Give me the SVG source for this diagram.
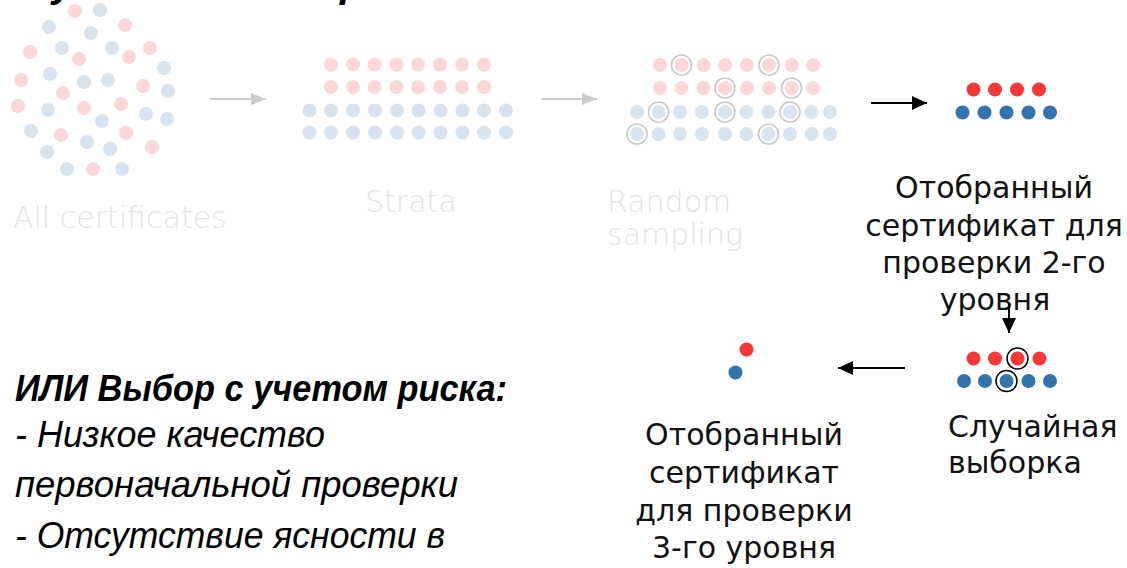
<svg xmlns="http://www.w3.org/2000/svg" width="1127" height="568" viewBox="0 0 1127 568">
<style>
.pk{fill:#fdd6d7}
.lb{fill:#d7e3ee}
.rd{fill:#f83838}
.bl{fill:#3373ae}
.ring{fill:none;stroke:#c9c9c9;stroke-width:1.6}
.bring{fill:none;stroke:#000;stroke-width:1.5}
.faint{font-family:"DejaVu Sans","Liberation Sans",sans-serif;font-weight:200;font-size:30px;fill:#e4e4e4}
.lbl{font-family:"DejaVu Sans","Liberation Sans",sans-serif;font-size:30px;fill:#111}
.note{font-family:"Liberation Sans","DejaVu Sans",sans-serif;font-style:italic;font-size:36px;fill:#000}
.gline{stroke:#cccccc;stroke-width:2;fill:none}
.kline{stroke:#000;stroke-width:2;fill:none}
</style>
<defs>
<marker id="ga" markerUnits="userSpaceOnUse" markerWidth="16" markerHeight="14" refX="15" refY="7" orient="auto"><path d="M0,1 L15,7 L0,13 Z" fill="#cccccc"/></marker>
<marker id="ka" markerUnits="userSpaceOnUse" markerWidth="16" markerHeight="14" refX="15" refY="7" orient="auto"><path d="M0,0 L15,7 L0,14 Z" fill="#000"/></marker>
</defs>

<g id="title-fragment">
<text x="52" y="-3" style="font-family:'Liberation Sans',sans-serif;font-weight:bold;font-style:italic;font-size:40px;fill:#000">у</text>
<text x="340" y="-3" style="font-family:'Liberation Sans',sans-serif;font-weight:bold;font-style:italic;font-size:40px;fill:#000">р</text>
</g>

<g id="all-certificates">
<circle class="pk" cx="75" cy="11" r="7"/><circle class="lb" cx="100" cy="10" r="7"/>
<circle class="lb" cx="49" cy="27" r="7"/><circle class="lb" cx="91" cy="33" r="7"/><circle class="pk" cx="125" cy="25" r="7"/>
<circle class="pk" cx="30" cy="52" r="7"/><circle class="lb" cx="62" cy="48" r="7"/><circle class="lb" cx="112" cy="48" r="7"/><circle class="pk" cx="79" cy="59" r="7"/><circle class="pk" cx="129" cy="57" r="7"/><circle class="pk" cx="150" cy="48" r="7"/>
<circle class="lb" cx="164" cy="68" r="7"/><circle class="pk" cx="21" cy="80" r="7"/><circle class="lb" cx="50" cy="74" r="7"/><circle class="lb" cx="84" cy="82" r="7"/><circle class="lb" cx="108" cy="80" r="7"/><circle class="pk" cx="143" cy="86" r="7"/><circle class="lb" cx="168" cy="91" r="7"/>
<circle class="pk" cx="63" cy="93" r="7"/><circle class="pk" cx="18" cy="106" r="7"/><circle class="lb" cx="48" cy="110" r="7"/><circle class="pk" cx="84" cy="108" r="7"/><circle class="pk" cx="121" cy="104" r="7"/><circle class="lb" cx="102" cy="121" r="7"/><circle class="lb" cx="146" cy="114" r="7"/><circle class="lb" cx="167" cy="119" r="7"/>
<circle class="lb" cx="31" cy="131" r="7"/><circle class="pk" cx="61" cy="135" r="7"/><circle class="lb" cx="87" cy="142" r="7"/><circle class="pk" cx="126" cy="133" r="7"/><circle class="lb" cx="110" cy="149" r="7"/><circle class="pk" cx="152" cy="147" r="7"/><circle class="lb" cx="47" cy="152" r="7"/>
<circle class="lb" cx="67" cy="169" r="7"/><circle class="pk" cx="93" cy="169" r="7"/><circle class="lb" cx="122" cy="169" r="7"/>
<text class="faint" x="13" y="228">All certificates</text>
</g>

<g id="strata">
<circle class="pk" cx="331" cy="64.5" r="7"/><circle class="pk" cx="353" cy="64.5" r="7"/><circle class="pk" cx="374.5" cy="64.5" r="7"/><circle class="pk" cx="396.5" cy="64.5" r="7"/><circle class="pk" cx="418" cy="64.5" r="7"/><circle class="pk" cx="440" cy="64.5" r="7"/><circle class="pk" cx="462" cy="64.5" r="7"/><circle class="pk" cx="484" cy="64.5" r="7"/>
<circle class="pk" cx="331" cy="87" r="7"/><circle class="pk" cx="353" cy="87" r="7"/><circle class="pk" cx="374.5" cy="87" r="7"/><circle class="pk" cx="396.5" cy="87" r="7"/><circle class="pk" cx="418" cy="87" r="7"/><circle class="pk" cx="440" cy="87" r="7"/><circle class="pk" cx="462" cy="87" r="7"/><circle class="pk" cx="484" cy="87" r="7"/>
<circle class="lb" cx="309.5" cy="110.5" r="7"/><circle class="lb" cx="331" cy="110.5" r="7"/><circle class="lb" cx="353" cy="110.5" r="7"/><circle class="lb" cx="375" cy="110.5" r="7"/><circle class="lb" cx="397" cy="110.5" r="7"/><circle class="lb" cx="418.5" cy="110.5" r="7"/><circle class="lb" cx="440.5" cy="110.5" r="7"/><circle class="lb" cx="462.5" cy="110.5" r="7"/><circle class="lb" cx="484" cy="110.5" r="7"/><circle class="lb" cx="506" cy="110.5" r="7"/>
<circle class="lb" cx="309.5" cy="132.5" r="7"/><circle class="lb" cx="331" cy="132.5" r="7"/><circle class="lb" cx="353" cy="132.5" r="7"/><circle class="lb" cx="375" cy="132.5" r="7"/><circle class="lb" cx="397" cy="132.5" r="7"/><circle class="lb" cx="418.5" cy="132.5" r="7"/><circle class="lb" cx="440.5" cy="132.5" r="7"/><circle class="lb" cx="462.5" cy="132.5" r="7"/><circle class="lb" cx="484" cy="132.5" r="7"/><circle class="lb" cx="506" cy="132.5" r="7"/>
<text class="faint" x="365" y="212">Strata</text>
</g>

<g id="random-sampling">
<circle class="pk" cx="660" cy="65" r="7"/><circle class="pk" cx="681.5" cy="65" r="7"/><circle class="pk" cx="703.5" cy="65" r="7"/><circle class="pk" cx="725" cy="65" r="7"/><circle class="pk" cx="747" cy="65" r="7"/><circle class="pk" cx="769" cy="65" r="7"/><circle class="pk" cx="791.5" cy="65" r="7"/><circle class="pk" cx="813" cy="65" r="7"/>
<circle class="pk" cx="660" cy="88" r="7"/><circle class="pk" cx="681.5" cy="88" r="7"/><circle class="pk" cx="703.5" cy="88" r="7"/><circle class="pk" cx="725" cy="88" r="7"/><circle class="pk" cx="747" cy="88" r="7"/><circle class="pk" cx="769" cy="88" r="7"/><circle class="pk" cx="791.5" cy="88" r="7"/><circle class="pk" cx="813" cy="88" r="7"/>
<circle class="lb" cx="637" cy="112" r="7"/><circle class="lb" cx="658.5" cy="112" r="7"/><circle class="lb" cx="680" cy="112" r="7"/><circle class="lb" cx="702" cy="112" r="7"/><circle class="lb" cx="725" cy="112" r="7"/><circle class="lb" cx="746.5" cy="112" r="7"/><circle class="lb" cx="768.5" cy="112" r="7"/><circle class="lb" cx="790" cy="112" r="7"/><circle class="lb" cx="811.5" cy="112" r="7"/><circle class="lb" cx="830" cy="112" r="7"/>
<circle class="lb" cx="637" cy="134" r="7"/><circle class="lb" cx="658.5" cy="134" r="7"/><circle class="lb" cx="680" cy="134" r="7"/><circle class="lb" cx="702" cy="134" r="7"/><circle class="lb" cx="725" cy="134" r="7"/><circle class="lb" cx="746.5" cy="134" r="7"/><circle class="lb" cx="768.5" cy="134" r="7"/><circle class="lb" cx="790" cy="134" r="7"/><circle class="lb" cx="811.5" cy="134" r="7"/><circle class="lb" cx="830" cy="134" r="7"/>
<circle class="ring" cx="681.5" cy="65" r="10"/><circle class="ring" cx="769" cy="65" r="10"/>
<circle class="ring" cx="725" cy="88" r="10"/><circle class="ring" cx="791.5" cy="88" r="10"/>
<circle class="ring" cx="658.5" cy="112" r="10"/><circle class="ring" cx="725" cy="112" r="10"/><circle class="ring" cx="790" cy="112" r="10"/>
<circle class="ring" cx="637" cy="134" r="10"/><circle class="ring" cx="768.5" cy="134" r="10"/>
<text class="faint" x="607" y="212">Random</text>
<text class="faint" x="607" y="245">sampling</text>
</g>

<g id="selected-level2">
<circle class="rd" cx="973.5" cy="89.5" r="7"/><circle class="rd" cx="995" cy="89.5" r="7"/><circle class="rd" cx="1017" cy="89.5" r="7"/><circle class="rd" cx="1039" cy="89.5" r="7"/>
<circle class="bl" cx="962.5" cy="112.5" r="7"/><circle class="bl" cx="984.5" cy="112.5" r="7"/><circle class="bl" cx="1006.5" cy="112.5" r="7"/><circle class="bl" cx="1028.5" cy="112.5" r="7"/><circle class="bl" cx="1050" cy="112.5" r="7"/>
<text class="lbl" text-anchor="middle" x="994" y="198">Отобранный</text>
<text class="lbl" text-anchor="middle" x="994" y="236">сертификат для</text>
<text class="lbl" text-anchor="middle" x="994" y="273">проверки 2-го</text>
<text class="lbl" text-anchor="middle" x="995" y="310">уровня</text>
</g>

<g id="random-selection">
<circle class="rd" cx="973.5" cy="358.5" r="7"/><circle class="rd" cx="995" cy="358.5" r="7"/><circle class="rd" cx="1017.5" cy="358.5" r="7"/><circle class="rd" cx="1039.5" cy="358.5" r="7"/>
<circle class="bl" cx="964" cy="381" r="7"/><circle class="bl" cx="985" cy="381" r="7"/><circle class="bl" cx="1006.5" cy="381" r="7"/><circle class="bl" cx="1028.5" cy="381" r="7"/><circle class="bl" cx="1050" cy="381" r="7"/>
<circle class="bring" cx="1017.5" cy="358.5" r="10.5"/><circle class="bring" cx="1006.5" cy="381" r="10.5"/>
<text class="lbl" x="948" y="437">Случайная</text>
<text class="lbl" x="948" y="473">выборка</text>
</g>

<g id="selected-level3">
<circle class="rd" cx="746.5" cy="349.5" r="7"/>
<circle class="bl" cx="735.5" cy="372.5" r="7"/>
<text class="lbl" text-anchor="middle" x="744" y="445">Отобранный</text>
<text class="lbl" text-anchor="middle" x="744" y="483">сертификат</text>
<text class="lbl" text-anchor="middle" x="744" y="521">для проверки</text>
<text class="lbl" text-anchor="middle" x="744" y="558">3-го уровня</text>
</g>

<g id="risk-note">
<text class="note" x="15" y="401" font-weight="bold" textLength="492" lengthAdjust="spacingAndGlyphs">ИЛИ Выбор с учетом риска:</text>
<text class="note" x="15" y="447" textLength="310" lengthAdjust="spacingAndGlyphs">- Низкое качество</text>
<text class="note" x="15" y="497" textLength="443" lengthAdjust="spacingAndGlyphs">первоначальной проверки</text>
<text class="note" x="15" y="548" textLength="430" lengthAdjust="spacingAndGlyphs">- Отсутствие ясности в</text>
</g>

<g id="connectors">
<line class="gline" x1="210" y1="99" x2="266" y2="99" marker-end="url(#ga)"/>
<line class="gline" x1="541" y1="99" x2="597" y2="99" marker-end="url(#ga)"/>
<line class="kline" x1="871" y1="103" x2="927" y2="103" marker-end="url(#ka)"/>
<line class="kline" x1="1009" y1="304" x2="1009" y2="333" marker-end="url(#ka)"/>
<line class="kline" x1="905" y1="368" x2="838" y2="368" marker-end="url(#ka)"/>
</g>
</svg>
